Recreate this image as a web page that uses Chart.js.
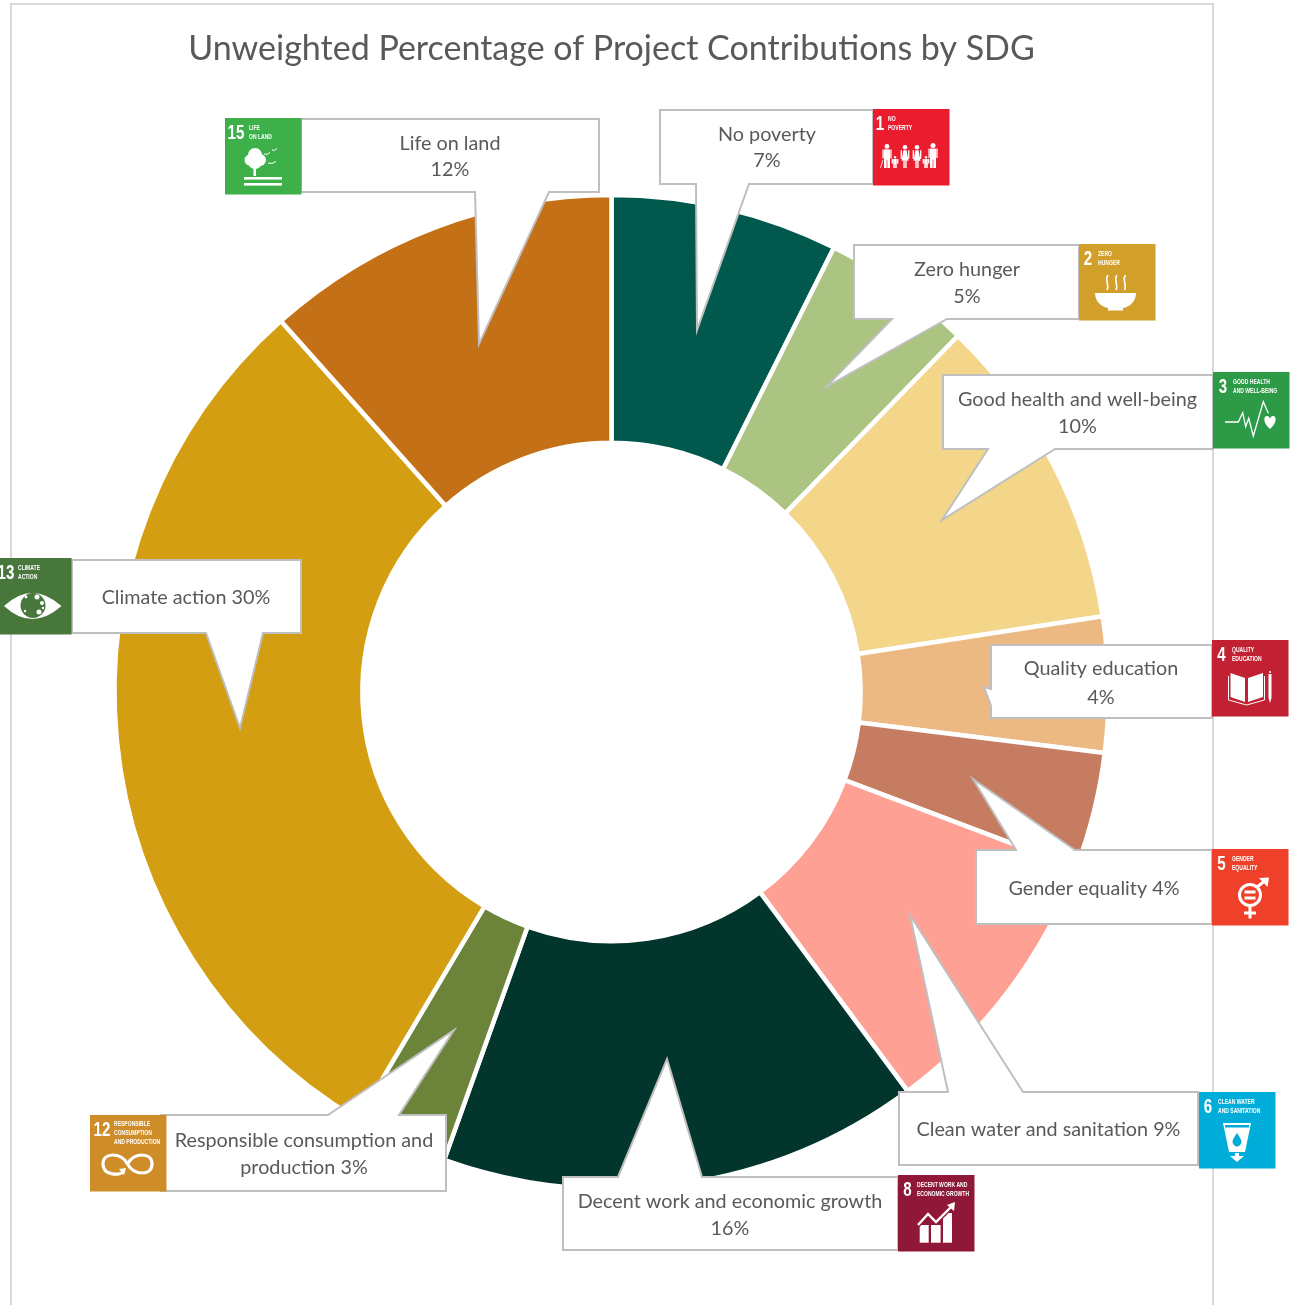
<!DOCTYPE html>
<html>
<head>
<meta charset="utf-8">
<title>Unweighted Percentage of Project Contributions by SDG</title>
<style>html,body{margin:0;padding:0;background:#fff}canvas{display:block}</style>
<script src="https://cdn.jsdelivr.net/npm/chart.js@4/dist/chart.umd.min.js"></script>
</head>
<body>
<canvas id="c" width="1295" height="1305"></canvas>
<script>
const chartTitle = "Unweighted Percentage of Project Contributions by SDG";
const categories = ["No poverty","Zero hunger","Good health and well-being","Quality education","Gender equality","Clean water and sanitation","Decent work and economic growth","Responsible consumption and production","Climate action","Life on land"];
const values = [7.4,4.9,10.3,4.4,3.8,9.1,15.65,3.05,29.95,11.6];
const shownPercent = [7,5,10,4,4,9,16,3,30,12];
const sliceColors = ["#00594c","#abc481","#f3d68a","#edb982","#c67c61","#ffa094","#02362d","#6c843a","#d49e12","#c47017"];
const sdgNumbers = [1,2,3,4,5,6,8,12,13,15];
const sdgCaptions = [["NO","POVERTY"],["ZERO","HUNGER"],["GOOD HEALTH","AND WELL-BEING"],["QUALITY","EDUCATION"],["GENDER","EQUALITY"],["CLEAN WATER","AND SANITATION"],["DECENT WORK AND","ECONOMIC GROWTH"],["RESPONSIBLE","CONSUMPTION","AND PRODUCTION"],["CLIMATE","ACTION"],["LIFE","ON LAND"]];
const sdgColors = ["#eb1c2d","#d19f2a","#2d9a47","#c22033","#ef412a","#00add8","#8f1838","#cf8d2a","#48773c","#3eb049"];

/* Annotation layout (not data) */
const callouts = [
 {b:[660,110,873,184],side:"b",base:[696,749],tip:[697,330],cx:767,ys:[135,161],brk:2},
 {b:[854,245,1079,319],side:"b",base:[892,947],tip:[826,387],cx:967,ys:[270,297],brk:2},
 {b:[943,375,1213,449],side:"b",base:[988,1055],tip:[942,520],cx:1077.5,ys:[400,427],brk:4},
 {b:[991,645,1212,718],side:"l",base:[689,706],tip:[984,687],cx:1101,ys:[669,698],brk:2},
 {b:[976,850,1212,924],side:"t",base:[1016,1075],tip:[973,779],cx:1094,ys:[889],brk:0},
 {b:[899,1092,1198,1165],side:"t",base:[948,1023],tip:[910,915],cx:1048.5,ys:[1130],brk:0},
 {b:[563,1177,898,1250],side:"t",base:[618,702],tip:[667,1059],cx:730,ys:[1202,1229],brk:5},
 {b:[161,1115,446,1191],side:"t",base:[328,399],tip:[454,1030],cx:304,ys:[1141,1168],brk:3},
 {b:[72,560,301,633],side:"b",base:[206,263],tip:[240,728],cx:186,ys:[598],brk:0},
 {b:[301,119,599,192],side:"b",base:[475,549],tip:[479,344],cx:450,ys:[144,170],brk:3}
];
const icons = [
 {x:873,y:109,nx:7,tx:15},{x:1079,y:244,nx:9,tx:19},{x:1213,y:372,nx:10,tx:20},{x:1212,y:640,nx:9.5,tx:20},
 {x:1212,y:849,nx:9.5,tx:20},{x:1199,y:1092,nx:9,tx:19},{x:898,y:1175,nx:9.5,tx:19},{x:90,y:1115,nx:12,tx:24},
 {x:-5,y:558,nx:11,tx:23},{x:225,y:118,nx:11,tx:24}
];
const CX=611.5, CY=692, R=497, INNER=248;

function calloutPath(ctx,c){
  const [l,t,r,b]=c.b; ctx.beginPath(); ctx.moveTo(l,t);
  if(c.side==="t"){ctx.lineTo(c.base[0],t);ctx.lineTo(c.tip[0],c.tip[1]);ctx.lineTo(c.base[1],t);}
  ctx.lineTo(r,t); ctx.lineTo(r,b);
  if(c.side==="b"){ctx.lineTo(c.base[1],b);ctx.lineTo(c.tip[0],c.tip[1]);ctx.lineTo(c.base[0],b);}
  ctx.lineTo(l,b);
  if(c.side==="l"){ctx.lineTo(l,c.base[1]);ctx.lineTo(c.tip[0],c.tip[1]);ctx.lineTo(l,c.base[0]);}
  ctx.closePath();
}
function calloutLines(i){
  const words=(categories[i]+" "+shownPercent[i]+"%").split(" ");
  const n=callouts[i].brk;
  return n?[words.slice(0,n).join(" "),words.slice(n).join(" ")]:[words.join(" ")];
}
function person(ctx,cx,top,h,w,skirt){
  const hr=h*0.1;
  ctx.beginPath();ctx.arc(cx,top+hr,hr,0,7);ctx.fill();
  const by=top+hr*2+0.6;
  if(skirt){
    ctx.beginPath();ctx.moveTo(cx-w*.3,by);ctx.lineTo(cx+w*.3,by);ctx.lineTo(cx+w*.62,top+h*.68);ctx.lineTo(cx-w*.62,top+h*.68);ctx.fill();
    ctx.fillRect(cx-w*.3,top+h*.68,w*.25,h*.32);ctx.fillRect(cx+w*.05,top+h*.68,w*.25,h*.32);
  }else{
    ctx.fillRect(cx-w/2,by,w,h*.45);
    ctx.fillRect(cx-w/2,by+h*.4,w*.44,h-(by-top)-h*.4);ctx.fillRect(cx+w*.06,by+h*.4,w*.44,h-(by-top)-h*.4);
  }
  ctx.fillRect(cx-w/2-1.6,by,1.3,h*.38);ctx.fillRect(cx+w/2+.3,by,1.3,h*.38);
}
const pictos={
 1(ctx){
   person(ctx,14,35,24,6,false);person(ctx,22,47,12,3.5,false);person(ctx,32,36,23,5.5,true);
   person(ctx,44,36,23,5.5,true);person(ctx,53,47,12,3.5,false);person(ctx,60,34,25,6,false);
   ctx.lineWidth=.8;ctx.strokeStyle="#fff";ctx.beginPath();ctx.moveTo(10,51);ctx.lineTo(7.5,59);ctx.stroke();
 },
 2(ctx){
   ctx.beginPath();ctx.moveTo(16,49);ctx.lineTo(57,49);ctx.bezierCurveTo(57,58,50,63,44,64);ctx.lineTo(44,66.5);ctx.lineTo(29,66.5);ctx.lineTo(29,64);ctx.bezierCurveTo(23,63,16,58,16,49);ctx.fill();
   ctx.strokeStyle="#fff";ctx.lineWidth=1.6;
   [28,37,45.5].forEach(x=>{ctx.beginPath();ctx.moveTo(x+1,31);ctx.bezierCurveTo(x-3,36,x+3,41,x,46);ctx.stroke();});
 },
 3(ctx){
   ctx.strokeStyle="#fff";ctx.lineWidth=1.3;ctx.beginPath();
   [[12,50],[25.3,50],[29.7,40.7],[32.7,54.7],[35.7,46.3],[40.3,64],[50.3,29.7],[55.3,41.3]].forEach((p,i)=>i?ctx.lineTo(p[0],p[1]):ctx.moveTo(p[0],p[1]));ctx.stroke();
   ctx.beginPath();ctx.moveTo(57,57);ctx.bezierCurveTo(50,51,50,44,54,44);ctx.bezierCurveTo(56,44,57,46,57,47);ctx.bezierCurveTo(57,46,58,44,60,44);ctx.bezierCurveTo(64,44,64,51,57,57);ctx.fill();
 },
 4(ctx){
   ctx.beginPath();ctx.moveTo(18.5,33);ctx.lineTo(33,38);ctx.lineTo(33,62);ctx.lineTo(18.5,57);ctx.fill();
   ctx.beginPath();ctx.moveTo(51,33);ctx.lineTo(36,38);ctx.lineTo(36,62);ctx.lineTo(51,57);ctx.fill();
   ctx.strokeStyle="#fff";ctx.lineWidth=1;ctx.beginPath();ctx.moveTo(16.5,36);ctx.lineTo(16.5,60);ctx.lineTo(34.5,65);ctx.lineTo(52.5,60);ctx.lineTo(52.5,36);ctx.stroke();
   ctx.fillRect(56.5,34,3,24);ctx.beginPath();ctx.moveTo(56.5,58);ctx.lineTo(59.5,58);ctx.lineTo(58,63);ctx.fill();ctx.fillRect(57.2,31,1.6,2);
 },
 5(ctx,col){
   ctx.strokeStyle="#fff";ctx.lineWidth=3;ctx.beginPath();ctx.arc(38,46,10.5,0,7);ctx.stroke();
   ctx.fillRect(36.5,57,3,12.5);ctx.fillRect(32,62.5,12,3);
   ctx.beginPath();ctx.moveTo(45,38);ctx.lineTo(54,31);ctx.stroke();
   ctx.beginPath();ctx.moveTo(47,29);ctx.lineTo(57,28.5);ctx.lineTo(55.5,38);ctx.closePath();ctx.fill();
   ctx.fillRect(32.5,41.5,11,3);ctx.fillRect(32.5,47.5,11,3);
 },
 6(ctx,col){
   ctx.beginPath();ctx.moveTo(24,31);ctx.lineTo(52,31);ctx.lineTo(46,60);ctx.lineTo(30,60);ctx.fill();
   ctx.fillStyle=col;ctx.fillRect(26,33,24,2.5);
   ctx.beginPath();ctx.moveTo(38,41);ctx.bezierCurveTo(42,47,44,50,41,53);ctx.bezierCurveTo(39,55,37,55,35,53);ctx.bezierCurveTo(32,50,34,47,38,41);ctx.fill();
   ctx.fillStyle="#fff";ctx.fillRect(36,61,4,3.5);
   ctx.beginPath();ctx.moveTo(31,64);ctx.lineTo(45,64);ctx.lineTo(38,70);ctx.fill();
 },
 8(ctx){
   ctx.fillRect(21.7,50,9,17.7);ctx.fillRect(33,50,9.6,17.7);ctx.fillRect(45,38,9,29.7);
   ctx.strokeStyle="#8f1838";ctx.lineWidth=5;ctx.beginPath();ctx.moveTo(20,50);ctx.lineTo(30,39);ctx.lineTo(38,47);ctx.lineTo(54,31);ctx.stroke();
   ctx.strokeStyle="#fff";ctx.lineWidth=2.4;ctx.beginPath();ctx.moveTo(20,50);ctx.lineTo(30,39);ctx.lineTo(38,47);ctx.lineTo(54,31);ctx.stroke();
   ctx.beginPath();ctx.moveTo(49,30);ctx.lineTo(57,27);ctx.lineTo(56,36);ctx.closePath();ctx.fill();
 },
 12(ctx){
   ctx.strokeStyle="#fff";ctx.lineWidth=3.2;ctx.beginPath();ctx.moveTo(37.5,49);
   ctx.bezierCurveTo(44,37,62,37,62,49);ctx.bezierCurveTo(62,61,44,61,37.5,49);
   ctx.bezierCurveTo(31,37,13,37,13,49);ctx.bezierCurveTo(13,61,31,61,34,56);ctx.stroke();
   ctx.beginPath();ctx.moveTo(29,54);ctx.lineTo(36,53);ctx.lineTo(34,60);ctx.fill();
 },
 13(ctx,col){
   ctx.beginPath();ctx.moveTo(9,48);ctx.quadraticCurveTo(37,22,66.5,48);ctx.quadraticCurveTo(37,74,9,48);ctx.fill();
   ctx.fillStyle=col;ctx.beginPath();ctx.arc(38,47.5,12.5,0,7);ctx.fill();
   ctx.fillStyle="#fff";
   [[42,39,2.5],[47,45,2],[44,54,2.5],[31,39,1.4],[30,53,1.2],[48,50,1.2]].forEach(p=>{ctx.beginPath();ctx.arc(p[0],p[1],p[2],0,7);ctx.fill();});
 },
 15(ctx){
   [[30,37,7],[25,42,5.5],[35,42,6],[30,44,7]].forEach(p=>{ctx.beginPath();ctx.arc(p[0],p[1],p[2],0,7);ctx.fill();});
   ctx.fillRect(28.5,50,2.5,8);ctx.fillRect(19,59,38,2.6);ctx.fillRect(19,65,38,2.6);
   ctx.strokeStyle="#fff";ctx.lineWidth=1;
   [[39,36,6],[47,32,5],[43,45,8]].forEach(p=>{ctx.beginPath();ctx.moveTo(p[0],p[1]);ctx.quadraticCurveTo(p[0]+p[2]/2,p[1]+1.5,p[0]+p[2],p[1]-1.5);ctx.stroke();});
 }
};
function drawIcon(ctx,i){
  const ic=icons[i],S=76.5,col=sdgColors[i];
  ctx.save();ctx.translate(ic.x,ic.y);
  ctx.fillStyle=col;ctx.fillRect(0,0,S,S);
  ctx.fillStyle="#fff";ctx.textBaseline="alphabetic";ctx.textAlign="center";
  ctx.save();ctx.translate(ic.nx,21);ctx.scale(.72,1);ctx.font="bold 21px 'Liberation Sans'";ctx.fillText(String(sdgNumbers[i]),0,0);ctx.restore();
  ctx.textAlign="left";
  const caps=sdgCaptions[i],y0=caps.length===3?11:12;
  caps.forEach((s,k)=>{ctx.save();ctx.translate(ic.tx,y0+k*9);ctx.scale(.72,1);ctx.font="bold 7px 'Liberation Sans'";ctx.fillText(s,0,0);ctx.restore();});
  ctx.strokeStyle="#fff";
  pictos[sdgNumbers[i]](ctx,col);
  ctx.restore();
}
const annotationPlugin={
  id:"sdgAnnotations",
  beforeDraw(chart){
    const ctx=chart.ctx;ctx.save();ctx.fillStyle="#fff";ctx.fillRect(0,0,1295,1305);
    ctx.strokeStyle="#d9d9d9";ctx.lineWidth=2;ctx.beginPath();ctx.moveTo(11,1306);ctx.lineTo(11,4);ctx.lineTo(1213,4);ctx.lineTo(1213,1306);ctx.stroke();ctx.restore();
  },
  afterDatasetsDraw(chart){
    const ctx=chart.ctx;ctx.save();
    callouts.forEach((c,i)=>{
      calloutPath(ctx,c);ctx.fillStyle="#fff";ctx.fill();ctx.strokeStyle="#bfbfbf";ctx.lineWidth=2;ctx.lineJoin="miter";ctx.stroke();
    });
    ctx.font="19.8px Lato";ctx.fillStyle="#595959";ctx.textAlign="center";ctx.textBaseline="middle";
    callouts.forEach((c,i)=>{calloutLines(i).forEach((s,k)=>ctx.fillText(s,c.cx,c.ys[k]));});
    categories.forEach((_,i)=>drawIcon(ctx,i));
    ctx.restore();
  }
};
new Chart(document.getElementById("c"),{
  type:"doughnut",
  data:{labels:categories,datasets:[{data:values,backgroundColor:sliceColors,borderColor:"#ffffff",borderWidth:4.5,hoverOffset:0}]},
  options:{
    responsive:false,animation:false,devicePixelRatio:1,
    radius:R,cutout:INNER,rotation:0,
    layout:{padding:{left:CX-R,right:1295-CX-R,top:29,bottom:1305-CY-R}},
    plugins:{
      legend:{display:false},tooltip:{enabled:false},
      title:{display:true,text:chartTitle,color:"#595959",font:{family:"Lato",size:34,weight:"normal",lineHeight:1.2},
        padding:{top:0,bottom:CY-R-29-40.8}}
    }
  },
  plugins:[annotationPlugin]
});
</script>
</body>
</html>
